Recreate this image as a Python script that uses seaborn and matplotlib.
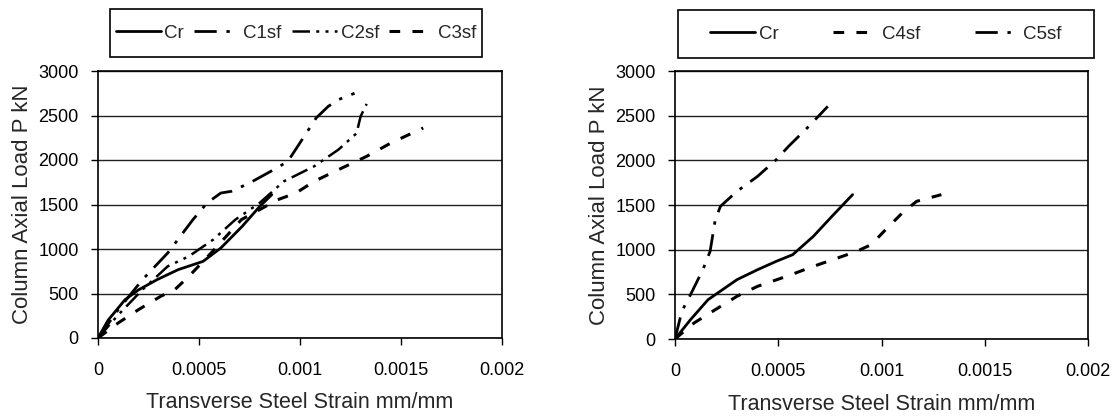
import matplotlib
matplotlib.use("Agg")
import matplotlib.pyplot as plt
from matplotlib.patches import Rectangle
import seaborn as sns
import pandas as pd

# Load-strain data (strain in mm/mm, load in kN)
cr_x = [0, 0.00005, 0.000134, 0.0002, 0.000292, 0.000397, 0.00052, 0.000608, 0.000714, 0.000801, 0.00086]
cr_y = [0, 200, 431, 540, 655, 768, 861, 1011, 1255, 1479, 1610]

c1sf_x = [0, 0.0001, 0.00022, 0.000345, 0.00047, 0.00054, 0.000608, 0.00066, 0.00075, 0.00087, 0.00094,
          0.00101, 0.00108, 0.00114, 0.00119, 0.00127]
c1sf_y = [0, 318, 655, 955, 1330, 1517, 1629, 1648, 1741, 1891, 1985, 2228, 2472, 2603, 2678, 2750]

c2sf_x = [0, 0.0001, 0.00022, 0.000345, 0.00045, 0.00057, 0.00068, 0.0008, 0.00092, 0.00107, 0.00119,
          0.00128, 0.0013, 0.00133]
c2sf_y = [0, 260, 543, 805, 918, 1105, 1330, 1517, 1760, 1929, 2116, 2300, 2490, 2630]

c3sf_x = [0, 0.0001, 0.0002, 0.00031, 0.00038, 0.00045, 0.00056, 0.00071, 0.00089, 0.00098, 0.00107,
          0.00119, 0.00133, 0.00145, 0.00161]
c3sf_y = [0, 169, 318, 468, 543, 693, 955, 1330, 1554, 1629, 1760, 1891, 2041, 2191, 2360]

cr2_x = [0, 0.000075, 0.00016, 0.00023, 0.0003, 0.0004, 0.00049, 0.00057, 0.00067, 0.00076, 0.00086]
cr2_y = [0, 216, 440, 552, 664, 776, 869, 944, 1149, 1373, 1616]

c4sf_x = [0, 0.000092, 0.000195, 0.0003, 0.0004, 0.00054, 0.00067, 0.00088, 0.00095, 0.00102, 0.0011,
          0.00117, 0.00129]
c4sf_y = [0, 179, 328, 478, 590, 701, 813, 981, 1056, 1224, 1410, 1541, 1616]

c5sf_x = [0, 0.000033, 0.000075, 0.000135, 0.00017, 0.000195, 0.00022, 0.0003, 0.0004, 0.00049, 0.00055,
          0.00064, 0.00074]
c5sf_y = [0, 310, 496, 776, 981, 1336, 1485, 1653, 1821, 2007, 2157, 2362, 2604]

x_ticks = [0, 0.0005, 0.001, 0.0015, 0.002]
x_tick_labels = ["0", "0.0005", "0.001", "0.0015", "0.002"]
y_ticks = [0, 500, 1000, 1500, 2000, 2500, 3000]

sns.set_style("white")
plt.rcParams["font.family"] = ["Liberation Sans", "DejaVu Sans"]

# Line styles (dash patterns in units of line width)
SOLID = "-"
LONG_DASH_DOT = (0, (8, 3.5, 1.2, 3.5))
LONG_DASH_DOT_DOT = (0, (7, 2.5, 1.2, 2.5, 1.2, 2.5))
SHORT_DASH = (0, (3.5, 4))

left_series = [
    ("Cr", cr_x, cr_y, SOLID, 2.0),
    ("C1sf", c1sf_x, c1sf_y, LONG_DASH_DOT, 2.0),
    ("C2sf", c2sf_x, c2sf_y, LONG_DASH_DOT_DOT, 1.8),
    ("C3sf", c3sf_x, c3sf_y, SHORT_DASH, 2.2),
]
right_series = [
    ("Cr", cr2_x, cr2_y, SOLID, 2.0),
    ("C4sf", c4sf_x, c4sf_y, SHORT_DASH, 2.2),
    ("C5sf", c5sf_x, c5sf_y, LONG_DASH_DOT, 2.0),
]

fig = plt.figure(figsize=(11.12, 4.17), dpi=100)
W, H = 1112, 417


def px_axes(x0, x1, y0, y1):
    return fig.add_axes([x0 / W, 1 - y1 / H, (x1 - x0) / W, (y1 - y0) / H])


ax_left = px_axes(98, 502, 71, 338)
ax_right = px_axes(675, 1088, 71, 339)


def draw(ax, series, legend_px, col_space):
    for name, xs, ys, ls, lw in series:
        df = pd.DataFrame({"strain": xs, "load": ys})
        sns.lineplot(data=df, x="strain", y="load", sort=False, estimator=None, ax=ax,
                     color="black", linewidth=lw, linestyle=ls, label=name)
    ax.set_xlim(0, 0.002)
    ax.set_ylim(0, 3000)
    ax.set_xticks(x_ticks)
    ax.set_xticklabels(x_tick_labels)
    ax.set_yticks(y_ticks)
    ax.yaxis.grid(True, color="#222222", linewidth=1.0)
    ax.xaxis.grid(False)
    ax.set_axisbelow(True)
    for s in ax.spines.values():
        s.set_visible(True)
        s.set_color("black")
        s.set_linewidth(1.2)
    ax.tick_params(axis="x", direction="out", length=5, width=1, colors="black",
                   labelsize=13, pad=12, bottom=True)
    ax.tick_params(axis="y", direction="out", length=5, width=1, colors="black",
                   labelsize=13, pad=9, left=True)
    ax.set_xlabel("Transverse Steel Strain mm/mm", fontsize=15.5, labelpad=10)
    ax.set_ylabel("Column Axial Load P kN", fontsize=16, labelpad=4)

    # Boxed legend above the plot area: frame drawn as a figure rectangle,
    # entries centred inside it
    lx0, lx1, ly0, ly1 = legend_px
    fig.patches.append(Rectangle((lx0 / W, 1 - ly1 / H), (lx1 - lx0) / W, (ly1 - ly0) / H,
                                 transform=fig.transFigure, fill=False,
                                 edgecolor="black", linewidth=1.2))
    cx, cy = (lx0 + lx1) / 2 / W, 1 - (ly0 + ly1) / 2 / H
    ax.legend(loc="center", bbox_to_anchor=(cx, cy), bbox_transform=fig.transFigure,
              ncol=len(series), frameon=False, fontsize=13.5,
              handlelength=2.4, handletextpad=0.2, columnspacing=col_space,
              borderaxespad=0, borderpad=0)


draw(ax_left, left_series, (110, 482, 9, 57), 0.55)
draw(ax_right, right_series, (678, 1094, 10, 58), 2.9)

fig.savefig("out.png", dpi=100, facecolor="white")
